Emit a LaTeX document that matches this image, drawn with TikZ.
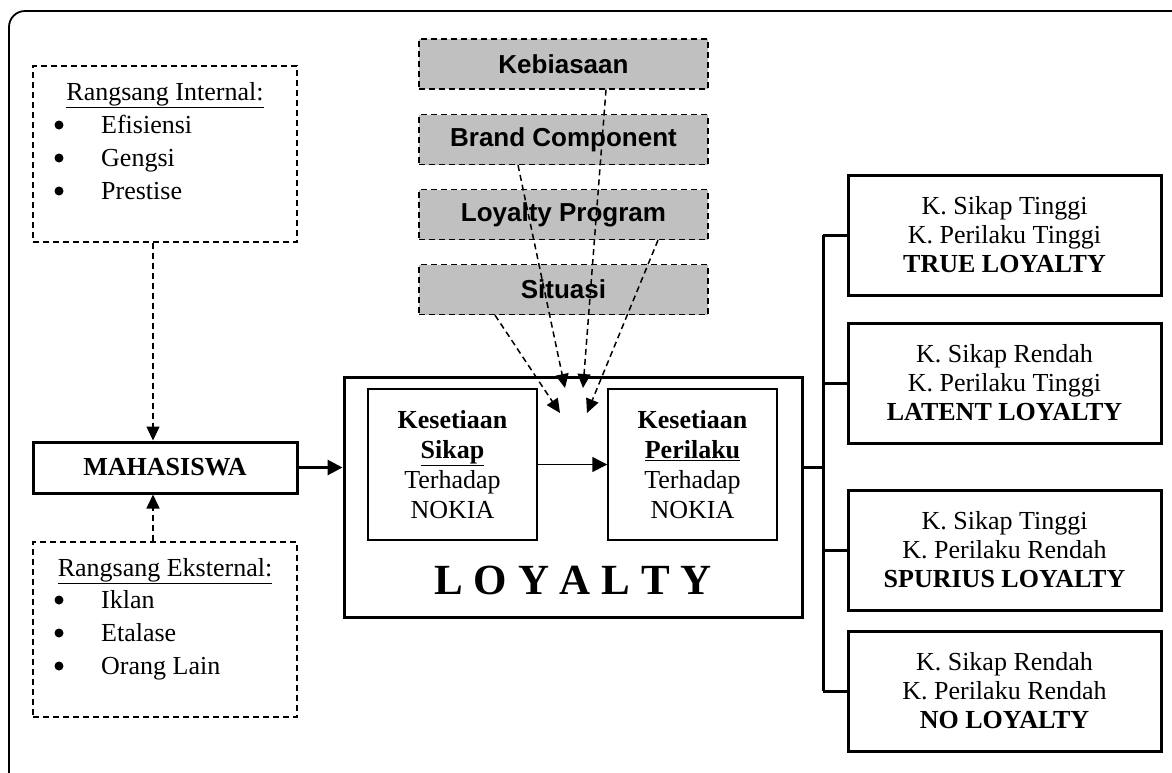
\documentclass[tikz,border=0pt]{standalone}
\usepackage{fontspec}
\setmainfont{Liberation Serif}
\setsansfont{Liberation Sans}
\usetikzlibrary{arrows.meta}
\definecolor{factorGray}{HTML}{C0C0C0}
\begin{document}
\begin{tikzpicture}
[x=1pt,y=-1pt,
  frameDecorate/.style={draw,line width=1.8pt,rounded corners=16pt},
  dashDecorate/.style={draw,line width=1.3pt,dash pattern=on 6pt off 4pt,inner sep=0pt},
  thickDecorate/.style={draw,line width=3pt,inner sep=0pt,align=center,
    font=\fontsize{26}{29}\selectfont},
  thinDecorate/.style={draw,line width=1.5pt,inner sep=0pt,align=center,
    font=\fontsize{26}{30}\selectfont},
  grayDecorate/.style={draw,fill=factorGray,line width=1.3pt,dash pattern=on 6pt off 4pt,
    minimum width=289pt,minimum height=50pt,inner sep=0pt,
    font=\fontsize{26}{30}\sffamily\bfseries},
  listDecorate/.style={inner sep=0pt,font=\fontsize{26}{33}\selectfont},
  dotDecorate/.style={shape=circle,fill,inner sep=0pt,minimum size=9pt},
  dashArrow/.style={line width=1.5pt,dash pattern=on 6pt off 4pt,
    -{Triangle[length=14pt,width=13pt]}},
  thickArrow/.style={line width=3pt,-{Triangle[length=15pt,width=15pt]}},
  thinArrow/.style={line width=1.5pt,-{Triangle[length=15pt,width=15pt]}},
  busDecorate/.style={line width=3pt}]
\useasboundingbox (0,0) rectangle (1172,772);
\draw[frameDecorate] (9,11) rectangle (1190,795);
%% left column
\node (internal) at (165,154) [dashDecorate,minimum width=264pt,minimum height=176pt] {};
\node (mahasiswa) at (165,467.5) [thickDecorate,minimum width=264pt,minimum height=51pt] {\bfseries MAHASISWA};
\node (external) at (165,629.5) [dashDecorate,minimum width=264pt,minimum height=175pt] {};
\node (intHead) at (165,100) [anchor=base,listDecorate] {\underline{Rangsang Internal:}};
\node (extHead) at (165,576) [anchor=base,listDecorate] {\underline{Rangsang Eksternal:}};
\foreach \name/\word/\y in {
  intA/Efisiensi/133, intB/Gengsi/166, intC/Prestise/199,
  extA/Iklan/608, extB/Etalase/641, extC/Orang Lain/674}
{
  \node (\name Dot) at (59,\y-8) [dotDecorate] {};
  \node (\name) at (101,\y) [anchor=base west,listDecorate] {\word};
}
%% loyalty block
\node (loyalty) at (573,497) [thickDecorate,minimum width=458pt,minimum height=240pt] {};
\node (sikap) at (452.5,464.5) [thinDecorate,minimum width=169pt,minimum height=151pt]
  {\textbf{Kesetiaan}\\\textbf{\underline{Sikap}}\\Terhadap\\NOKIA};
\node (perilaku) at (692.5,464.5) [thinDecorate,minimum width=169pt,minimum height=151pt]
  {\textbf{Kesetiaan}\\\textbf{\underline{Perilaku}}\\Terhadap\\NOKIA};
\node (loyTitle) at (573,594) [anchor=base,inner sep=0pt,font=\fontsize{43}{50}\selectfont\bfseries] {L O Y A L T Y};
%% factors
\foreach \name/\label/\y in {
  keb/Kebiasaan/64, brand/Brand Component/139.5,
  prog/Loyalty Program/214.5, sit/Situasi/289.5}
{
  \node (\name) at (563.5,\y) [grayDecorate] {\label};
}
%% results
\foreach \name/\sk/\pr/\kind/\y in {
  rTrue/Tinggi/Tinggi/TRUE/235, rLatent/Rendah/Tinggi/LATENT/383,
  rSpur/Tinggi/Rendah/SPURIUS/550, rNo/Rendah/Rendah/NO/691}
{
  \node (\name) at (1004.5,\y) [thickDecorate,minimum width=313pt,minimum height=120pt]
    {K. Sikap \sk\\K. Perilaku \pr\\\textbf{\kind{} LOYALTY}};
}
%% connectors
\draw[dashArrow] ([xshift=-12pt]internal.south) -- ([xshift=-12pt]mahasiswa.north);
\draw[dashArrow] ([xshift=-12pt]external.north) -- ([xshift=-12pt]mahasiswa.south);
\draw[thickArrow] (mahasiswa.east) -- (mahasiswa.east -| loyalty.west);
\draw[thinArrow] (sikap.east) -- (perilaku.west);
\coordinate (tipKeb) at (583,388);
\coordinate (tipBrand) at (565,388);
\coordinate (tipProg) at (587,413);
\coordinate (tipSit) at (560,413);
\draw[dashArrow] ([xshift=42.5pt]keb.south) -- (tipKeb);
\draw[dashArrow] ([xshift=-45.5pt]brand.south) -- (tipBrand);
\draw[dashArrow] ([xshift=94.5pt]prog.south) -- (tipProg);
\draw[dashArrow] ([xshift=-68.5pt]sit.south) -- (tipSit);
\coordinate (bus) at (823,467);
\draw[busDecorate] ([yshift=30pt]loyalty.east) -- (bus);
\draw[busDecorate] (bus |- rTrue.west) -- (bus |- rNo.west);
\foreach \name in {rTrue,rLatent,rSpur,rNo}
{
  \draw[busDecorate] (bus |- \name.west) -- (\name.west);
}
\end{tikzpicture}
\end{document}
